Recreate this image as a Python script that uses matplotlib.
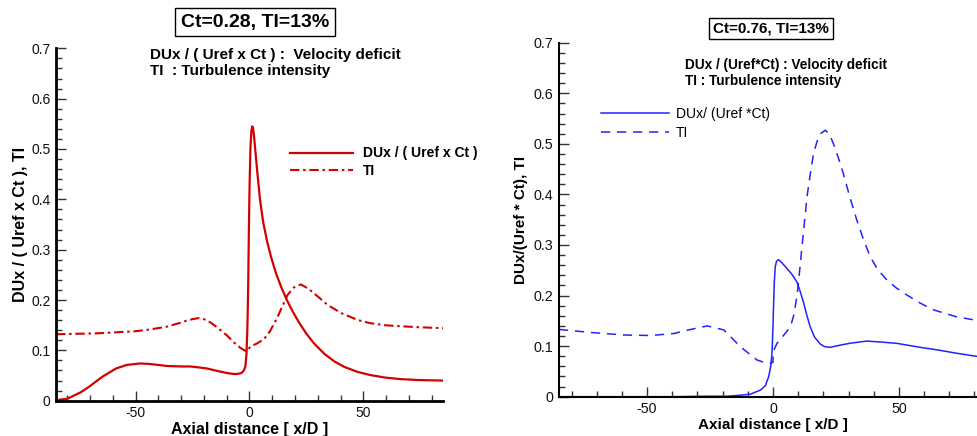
import matplotlib
matplotlib.use("Agg")
import matplotlib.pyplot as plt
from matplotlib.ticker import MultipleLocator

plt.rcParams['font.family'] = ['Liberation Sans', 'DejaVu Sans']
plt.rcParams['axes.unicode_minus'] = False

# Left panel: Ct=0.28, TI=13%
x_du_l = [-85, -80, -77.7, -74, -70.4, -64.5, -58.6, -54, -50, -48, -44, -40, -36.4,
          -30, -26, -22, -18.7, -14, -9.9, -7, -5.4, -3.5, -2.5, -1.8, -1.3, -0.9, -0.6,
          -0.3, 0.0, 0.4, 0.8, 1.2, 1.6, 2.0, 2.6, 3.4, 4.6, 6.0, 7.8, 9.5, 11.5, 14,
          16.4, 19, 21.8, 25, 28.5, 32.9, 37.3, 41.7, 47.6, 53, 59.4, 66, 74.2, 85]
du_l = [0.001, 0.004, 0.009, 0.017, 0.028, 0.048, 0.064, 0.071, 0.073, 0.074, 0.073,
        0.071, 0.069, 0.068, 0.068, 0.066, 0.064, 0.059, 0.055, 0.053, 0.053, 0.055,
        0.060, 0.068, 0.094, 0.15, 0.22, 0.33, 0.42, 0.50, 0.535, 0.545, 0.54, 0.525,
        0.495, 0.455, 0.40, 0.355, 0.315, 0.285, 0.255, 0.225, 0.20, 0.177, 0.155,
        0.133, 0.113, 0.093, 0.078, 0.067, 0.057, 0.051, 0.046, 0.043, 0.041, 0.040]

x_ti_l = [-85, -75, -66, -58, -50, -43, -36.4, -31, -27.6, -25, -22.5, -20, -17, -14.3,
          -10, -6.9, -4, -1.8, -1.0, 0.4, 3, 6.3, 9, 12.2, 14.5, 16.7, 19.5, 22.6, 26,
          30, 34.4, 40.3, 47.7, 53, 59.4, 66, 74.2, 85]
ti_l = [0.132, 0.133, 0.134, 0.136, 0.138, 0.142, 0.147, 0.154, 0.159, 0.162, 0.164,
        0.162, 0.155, 0.146, 0.130, 0.116, 0.105, 0.099, 0.098, 0.108, 0.113, 0.122,
        0.138, 0.165, 0.188, 0.210, 0.225, 0.231, 0.222, 0.207, 0.190, 0.174, 0.160,
        0.154, 0.150, 0.148, 0.146, 0.144]

# Right panel: Ct=0.76, TI=13%
x_du_r = [-85, -60, -40, -25, -18, -13, -9, -5, -3, -1.7, -0.9, -0.4, 0.0, 0.25, 0.5,
          0.9, 1.4, 2.2, 3.5, 5.5, 7.5, 9.5, 11, 12.2, 13.5, 14.8, 16.5, 18.8, 20.5,
          22.7, 26.7, 31, 37.3, 43, 49.2, 58.5, 66, 72.8, 82]
du_r = [0.0, 0.0, 0.0, 0.001, 0.001, 0.003, 0.005, 0.013, 0.022, 0.04, 0.06, 0.086,
        0.14, 0.185, 0.225, 0.257, 0.268, 0.271, 0.265, 0.254, 0.242, 0.227, 0.205,
        0.185, 0.16, 0.138, 0.118, 0.104, 0.099, 0.0976, 0.102, 0.106, 0.110, 0.108,
        0.1055, 0.0976, 0.092, 0.086, 0.079]

x_ti_r = [-85, -72.3, -59.1, -48.5, -39.3, -32.7, -26.1, -19.5, -13, -9.5, -6.3, -3,
          -1.1, 0.0, 0.1, 1.6, 4, 6.9, 8.2, 9.5, 10.5, 11.5, 12.5, 13.5, 14.8, 16.1,
          17.5, 18.8, 20.8, 22.5, 24, 26, 28, 30.5, 33.3, 36, 38.6, 41.5, 45.2, 49,
          53.2, 58.5, 63.6, 72.8, 82]
ti_r = [0.133, 0.127, 0.122, 0.121, 0.125, 0.133, 0.140, 0.132, 0.099, 0.085, 0.0725,
        0.067, 0.066, 0.068, 0.090, 0.1055, 0.120, 0.138, 0.160, 0.198, 0.245, 0.296,
        0.345, 0.395, 0.44, 0.481, 0.505, 0.52, 0.527, 0.518, 0.50, 0.472, 0.44, 0.395,
        0.349, 0.31, 0.277, 0.252, 0.231, 0.215, 0.201, 0.185, 0.172, 0.158, 0.150]

W, H = 978, 436
fig = plt.figure(figsize=(W / 100, H / 100), dpi=100)


def fx(px):
    return px / W


def fy(py):
    return 1 - py / H


def style_axes(ax, spine_w, tick_size):
    ax.spines['top'].set_visible(False)
    ax.spines['right'].set_visible(False)
    ax.spines['left'].set_linewidth(spine_w)
    ax.spines['bottom'].set_linewidth(spine_w)
    ax.set_xlim(-85, 85)
    ax.set_ylim(0, 0.7)
    ax.xaxis.set_major_locator(MultipleLocator(50))
    ax.xaxis.set_minor_locator(MultipleLocator(10))
    ax.yaxis.set_major_locator(MultipleLocator(0.1))
    ax.yaxis.set_minor_locator(MultipleLocator(0.02))
    ax.tick_params(which='both', direction='in', color='#333333', width=1,
                   labelsize=tick_size, labelcolor='#111111')
    ax.tick_params(which='major', length=7.5, pad=4)
    ax.tick_params(which='minor', length=4.5)
    ax.yaxis.set_major_formatter(plt.FuncFormatter(lambda v, p: '0' if v == 0 else '%g' % v))


# ---- left
axl = fig.add_axes([fx(56), fy(400.7), fx(443 - 56), (400.7 - 48.3) / H])
style_axes(axl, 2.0, 10)
red = '#d40000'
axl.plot(x_du_l, du_l, color=red, lw=1.6, label='DUx / ( Uref x Ct )')
axl.plot(x_ti_l, ti_l, color=red, lw=1.5, linestyle=(0, (4.5, 1.8, 1.2, 1.8)), label='TI')
axl.set_xlabel('Axial distance [ x/D ]', fontsize=11.5, fontweight='bold', labelpad=1)
axl.set_ylabel('DUx / ( Uref x Ct ), TI', fontsize=11.5, fontweight='bold', labelpad=2)
legl = axl.legend(loc='center left', bbox_to_anchor=(fx(290), fy(162.2)),
                  bbox_transform=fig.transFigure, frameon=False, borderpad=0,
                  borderaxespad=0, handlelength=4.5, handletextpad=0.75,
                  labelspacing=0.25, prop={'weight': 'bold', 'size': 10})

fig.text(fx(255), fy(22), 'Ct=0.28, TI=13%', fontsize=14, fontweight='bold',
         ha='center', va='center',
         bbox=dict(boxstyle='square,pad=0.3', fc='white', ec='black', lw=1))
fig.text(fx(150), fy(55.5), 'DUx / ( Uref x Ct ) :  Velocity deficit', fontsize=11,
         fontweight='bold', ha='left', va='center')
fig.text(fx(150), fy(71.5), 'TI  : Turbulence intensity', fontsize=11,
         fontweight='bold', ha='left', va='center')

# ---- right
axr = fig.add_axes([fx(559), fy(396.7), (987 - 559) / W, (396.7 - 42.7) / H])
style_axes(axr, 1.5, 10.3)
blue = '#2222ff'
axr.plot(x_du_r, du_r, color=blue, lw=1.1, label='DUx/ (Uref *Ct)')
axr.plot(x_ti_r, ti_r, color=blue, lw=1.1, linestyle=(0, (6, 4.5)), label='TI')
axr.set_xlabel('Axial distance [ x/D ]', fontsize=11, fontweight='bold', labelpad=1)
axr.set_ylabel('DUx/(Uref * Ct), TI', fontsize=11, fontweight='bold', labelpad=4)
legr = axr.legend(loc='center left', bbox_to_anchor=(fx(601), fy(123.7)),
                  bbox_transform=fig.transFigure, frameon=False, borderpad=0,
                  borderaxespad=0, handlelength=4.9, handletextpad=0.5,
                  labelspacing=0.35, prop={'size': 10})

fig.text(fx(771), fy(28.5), 'Ct=0.76, TI=13%', fontsize=11, fontweight='bold',
         ha='center', va='center',
         bbox=dict(boxstyle='square,pad=0.25', fc='white', ec='black', lw=1))
fig.text(fx(685), fy(64.5), 'DUx / (Uref*Ct) : Velocity deficit', fontsize=9.8,
         fontweight='bold', ha='left', va='center')
fig.text(fx(685), fy(80.5), 'TI : Turbulence intensity', fontsize=9.8,
         fontweight='bold', ha='left', va='center')

fig.savefig('out.png', dpi=100)
